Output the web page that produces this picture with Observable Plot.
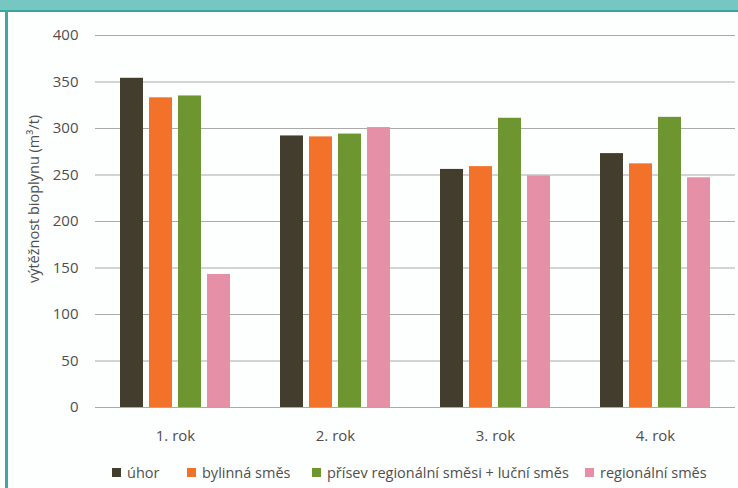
<!DOCTYPE html>
<html>
<head>
<meta charset="utf-8">
<script src="https://cdn.jsdelivr.net/npm/d3@7"></script>
<script src="https://cdn.jsdelivr.net/npm/@observablehq/plot@0.6"></script>
<style>
  html, body { margin: 0; padding: 0; background: #fff; }
  #wrap { position: relative; width: 738px; height: 488px; overflow: hidden; background: #fdfefe; font-family: "Open Sans", sans-serif; }
  #header { position: absolute; left: 0; top: 0; width: 738px; height: 10px; background: #76c7c2; border-bottom: 2px solid #3aa59c; }
  #lborder { position: absolute; left: 5px; top: 10px; width: 3px; height: 478px; background: #42a89f; }
  #chart { position: absolute; left: 0; top: 0; }
  #ylabel { position: absolute; left: 33px; top: 199px; transform: translate(-50%, -50%) rotate(-90deg); white-space: nowrap; font-size: 14.5px; color: #4f4f4f; }
  .leg { position: absolute; top: 463px; display: flex; align-items: center; font-size: 14.5px; color: #4f4f4f; white-space: nowrap; }
  .sw { width: 9px; height: 9px; margin-right: 6px; }
</style>
</head>
<body>
<div id="wrap">
  <div id="header"></div>
  <div id="lborder"></div>
  <div id="chart"></div>
  <div id="ylabel"></div>
  <div id="legend"></div>
</div>
<script>
const years = ["1. rok", "2. rok", "3. rok", "4. rok"];
const series = ["úhor", "bylinná směs", "přísev regionální směsi + luční směs", "regionální směs"];
const uhor = [354, 292, 256, 273];
const bylinna = [333, 291, 259, 262];
const prisev = [335, 294, 311, 312];
const regionalni = [143, 301, 249, 247];
const colors = ["#423d2c", "#f3722a", "#6e9630", "#e590a6"];
const yTicks = [0, 50, 100, 150, 200, 250, 300, 350, 400];
const yLabel = "výtěžnost bioplynu (m³/t)";
const legendLefts = [112, 187, 312, 585];

const valuesBySeries = [uhor, bylinna, prisev, regionalni];
const data = years.flatMap((yr, i) => series.map((s, j) => ({year: yr, series: s, value: valuesBySeries[j][i]})));

const plot = Plot.plot({
  width: 738,
  height: 488,
  marginLeft: 95,
  marginRight: 3,
  marginTop: 35,
  marginBottom: 81,
  style: {fontFamily: "Open Sans, sans-serif", fontSize: "15px", color: "#4f4f4f", background: "transparent"},
  fx: {domain: years, padding: 0, label: null},
  x: {domain: series, paddingInner: 0.21, paddingOuter: 0.83, axis: null},
  y: {domain: [0, 400], label: null},
  color: {domain: series, range: colors},
  marks: [
    Plot.gridY(yTicks, {stroke: "#aaa", strokeOpacity: 1, strokeWidth: 1}),
    Plot.axisY(yTicks, {tickSize: 0, tickPadding: 17, label: null, fontSize: 15}),
    Plot.axisFx({anchor: "bottom", tickSize: 0, tickPadding: 23, label: null, fontSize: 15}),
    Plot.barY(data, {fx: "year", x: "series", y: "value", fill: "series"})
  ]
});
document.getElementById("chart").appendChild(plot);
document.getElementById("ylabel").textContent = yLabel;

const leg = document.getElementById("legend");
series.forEach((s, i) => {
  const item = document.createElement("div");
  item.className = "leg";
  item.style.left = legendLefts[i] + "px";
  const sw = document.createElement("span");
  sw.className = "sw";
  sw.style.background = colors[i];
  const t = document.createElement("span");
  t.textContent = s;
  item.appendChild(sw);
  item.appendChild(t);
  leg.appendChild(item);
});
</script>
</body>
</html>
